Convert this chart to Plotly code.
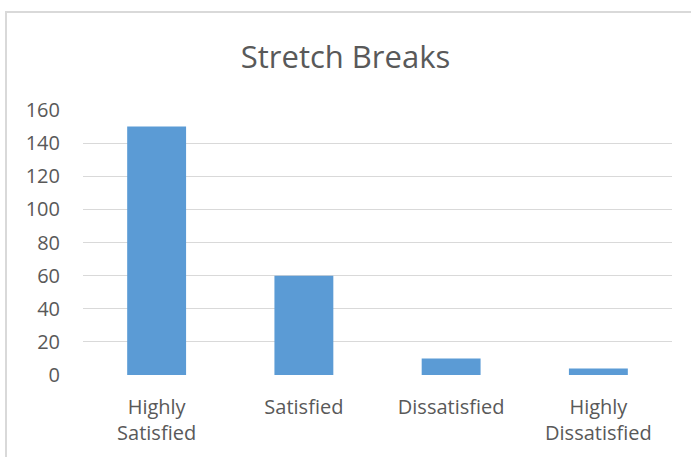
import plotly.graph_objects as go

categories = ["Highly<br>Satisfied", "Satisfied", "Dissatisfied", "Highly<br>Dissatisfied"]
values = [150, 60, 10, 4]
y_ticks = [0, 20, 40, 60, 80, 100, 120, 140, 160]

TEXT = "#595959"
FONT = "Open Sans"

fig = go.Figure(go.Bar(x=categories, y=values, marker=dict(color="#5b9bd5", line=dict(width=0)), width=0.4))

fig.update_layout(
    width=691, height=457,
    margin=dict(l=83, r=19, t=110, b=82),
    paper_bgcolor="white", plot_bgcolor="white",
    font=dict(family=FONT, color=TEXT, size=20),
    title=dict(text="Stretch Breaks", x=0.5, xanchor="center", y=1 - 57/457, yanchor="middle",
               font=dict(family=FONT, size=31, color=TEXT)),
    showlegend=False,
    xaxis=dict(showgrid=False, zeroline=False, showline=False, ticks="",
               ticklabelstandoff=18, tickfont=dict(size=20, color=TEXT)),
    yaxis=dict(range=[0, 160], tickvals=y_ticks, showgrid=True, gridcolor="#d9d9d9", gridwidth=1,
               zeroline=False, showline=False, ticks="", ticklabelstandoff=22,
               tickfont=dict(size=20, color=TEXT)),
    shapes=[dict(type="rect", xref="paper", yref="paper", x0=-77/589, x1=1 + 30/589,
                 y0=-100/265, y1=1 + 98/265, line=dict(color="#d9d9d9", width=2), fillcolor="rgba(0,0,0,0)", layer="below")],
)

fig.write_html("out.html")
